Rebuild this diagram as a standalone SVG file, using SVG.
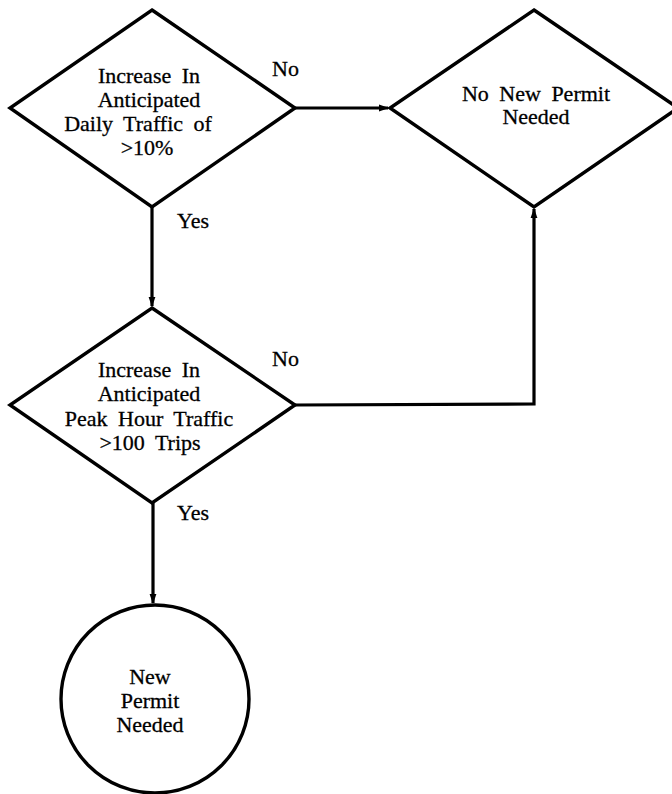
<svg xmlns="http://www.w3.org/2000/svg" width="672" height="794" viewBox="0 0 672 794">
<style>
.shape{fill:#fff;stroke:#000;stroke-width:3.4;stroke-linejoin:miter}
.conn{fill:none;stroke:#000;stroke-width:3.2}
.t{font-family:"Liberation Serif","Times New Roman",serif;font-size:22px;fill:#000;stroke:#000;stroke-width:0.3;text-anchor:middle;word-spacing:5px}
.lbl{font-family:"Liberation Serif","Times New Roman",serif;font-size:22px;fill:#000;stroke:#000;stroke-width:0.3}
</style>
<defs>
<marker id="arr" markerUnits="userSpaceOnUse" markerWidth="10" markerHeight="8" refX="9" refY="4" orient="auto">
<path d="M0,0.6 L10,4 L0,7.4 z" fill="#000"/>
</marker>
</defs>
<rect width="672" height="794" fill="#fff"/>
<g id="connectors">
<line class="conn" x1="295" y1="108" x2="388" y2="108" marker-end="url(#arr)"/>
<line class="conn" x1="152" y1="207" x2="152" y2="306" marker-end="url(#arr)"/>
<polyline class="conn" points="295,405 534,404 534,209" marker-end="url(#arr)"/>
<line class="conn" x1="153" y1="503" x2="153" y2="603" marker-end="url(#arr)"/>
<text class="lbl" x="272" y="76">No</text>
<text class="lbl" x="177" y="228">Yes</text>
<text class="lbl" x="272" y="366">No</text>
<text class="lbl" x="177" y="520">Yes</text>
</g>
<g id="d1">
<polygon class="shape" points="152,10 295,108 152,207 10,108"/>
<text class="t" x="149" y="83">Increase In</text>
<text class="t" x="149" y="107">Anticipated</text>
<text class="t" x="138" y="131">Daily Traffic of</text>
<text class="t" x="147" y="155">&gt;10%</text>
</g>
<g id="d2">
<polygon class="shape" points="534,10 678,108 534,207 390,108"/>
<text class="t" x="536" y="101">No New Permit</text>
<text class="t" x="536" y="124">Needed</text>
</g>
<g id="d3">
<polygon class="shape" points="152,308 295,405 152,503 10,405"/>
<text class="t" x="149" y="377">Increase In</text>
<text class="t" x="149" y="401">Anticipated</text>
<text class="t" x="149" y="426">Peak Hour Traffic</text>
<text class="t" x="150" y="450">&gt;100 Trips</text>
</g>
<g id="c1">
<circle class="shape" cx="155" cy="699" r="94"/>
<text class="t" x="150" y="684">New</text>
<text class="t" x="150" y="708">Permit</text>
<text class="t" x="150" y="732">Needed</text>
</g>
</svg>
